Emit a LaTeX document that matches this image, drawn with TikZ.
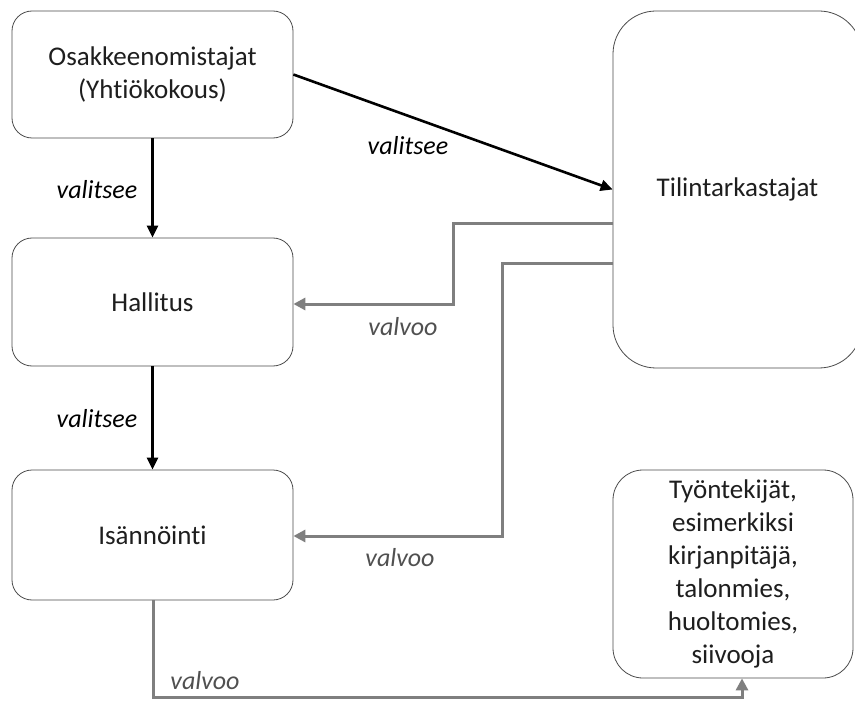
\documentclass[tikz,border=0pt]{standalone}
\usepackage{fontspec}
\setmainfont{Carlito}[Ligatures=NoCommon]
\usetikzlibrary{arrows.meta}
\definecolor{linegray}{RGB}{127,127,127}
\definecolor{labelgray}{RGB}{80,80,80}
\definecolor{textdark}{RGB}{30,30,30}
\begin{document}
\begin{tikzpicture}[x=1pt,y=-1pt,
  box/.style={draw=black!70,line width=0.8pt,rounded corners=20pt,align=center,text=textdark,font=\fontsize{27}{33}\selectfont},
  elect/.style={line width=2.6pt,-{Triangle[length=12pt,width=11pt]}},
  watch/.style={draw=linegray,line width=3pt,-{Triangle[length=12pt,width=12pt]}},
  elabel/.style={font=\fontsize{26}{30}\selectfont\itshape},
  wlabel/.style={font=\fontsize{26}{30}\selectfont\itshape,text=labelgray}]
\useasboundingbox (0,0) rectangle (855,706);
\fill[white] (0,0) rectangle (855,706);
\clip (0,0) rectangle (855,706);
% boxes
\node[box,minimum width=281pt,minimum height=127pt] (owners) at (152.5,74.5) {Osakkeenomistajat\\(Yhtiökokous)};
\node[box,minimum width=281pt,minimum height=128pt] (board) at (152.5,302) {Hallitus};
\node[box,minimum width=281pt,minimum height=130pt] (mgmt) at (152.5,535) {Isännöinti};
\node[box,rounded corners=43pt,minimum width=249pt,minimum height=357pt] (auditors) at (737.5,189.5) {Tilintarkastajat};
\node[box,rounded corners=30pt,minimum width=240pt,minimum height=208pt] (staff) at (733,574) {Työntekijät,\\esimerkiksi\\kirjanpitäjä,\\talonmies,\\huoltomies,\\siivooja};
% elections
\draw[elect] (owners.east) -- (auditors.west);
\draw[elect] (owners.south) -- (board.north);
\draw[elect] (board.south) -- (mgmt.north);
\node[elabel] (l1) at (408,146) {valitsee};
\node[elabel] (l2) at (97,190) {valitsee};
\node[elabel] (l3) at (97,419) {valitsee};
% supervision
\draw[watch] (auditors.west |- 0,224) -| (453,304) -- (board.east |- 0,304);
\draw[watch] (auditors.west |- 0,263) -| (502,536) -- (mgmt.east |- 0,536);
\draw[watch] (mgmt.south -| 153,0) |- (742,697) -- (staff.south -| 742,0);
\node[wlabel] (l4) at (403,327) {valvoo};
\node[wlabel] (l5) at (400,558) {valvoo};
\node[wlabel] (l6) at (205,681) {valvoo};
\end{tikzpicture}
\end{document}
